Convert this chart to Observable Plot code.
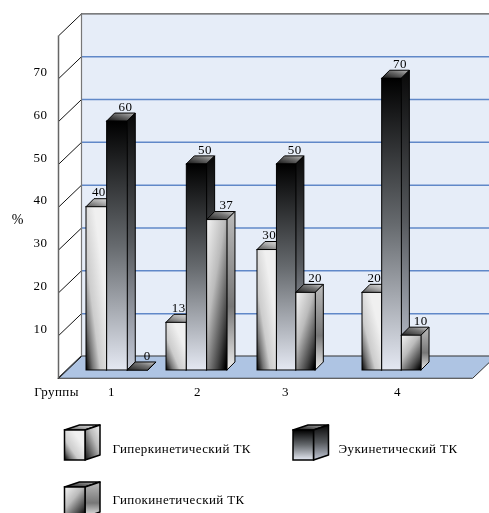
<!DOCTYPE html>
<html lang="ru">
<head>
<meta charset="utf-8">
<script src="https://cdn.jsdelivr.net/npm/d3@7"></script>
<script src="https://cdn.jsdelivr.net/npm/@observablehq/plot@0.6"></script>
<style>
  html, body { margin: 0; background: #fff; }
  svg { display: block; background: transparent !important; will-change: transform; }
  svg text { letter-spacing: 0.4px; }
</style>
</head>
<body>
<div id="chart"></div>
<script>
// Patients (%) by tachykinetic type in four groups
const groups = ["1", "2", "3", "4"];
const seriesNames = ["Гиперкинетический ТК", "Эукинетический ТК", "Гипокинетический ТК"];
const hyper = [40, 13, 30, 20];
const eu = [60, 50, 50, 70];
const hypo = [0, 37, 20, 10];
const seriesValues = [hyper, eu, hypo];
const valueTicks = [10, 20, 30, 40, 50, 60, 70];
const wallLevels = [0, 10, 20, 30, 40, 50, 60, 70, 80];

// Groups sit unevenly along the x axis (in axis units)
const groupStart = [1, 2, 3.1375, 4.45];
const groupBarWidth = [0.258, 0.254, 0.243, 0.246];
const groupLabelAt = [1.3125, 2.3875, 3.4875, 4.8875];

// Depth of the box: wall is set back from the front plane, bars have a shallow extrusion
const wallDepth = {x: 0.2875, y: 5.14};
const barDepth = {x: 0.1, y: 1.87};
const barBase = 1.87;
const frontLeft = 0.65;
const frontRight = 5.8375;
const font = "'Liberation Serif', serif";
const textStyle = {fontFamily: font, fontSize: 13, fill: "#000"};

// Gradient definitions for each face of each series
const gradients = [
  {id: "hyperFront", v: [0, 1, 0.7, 0.3], s: [[0, "#000"], [0.25, "#777"], [0.5, "#ccc"], [1, "#f0f0f0"]]},
  {id: "hyperSide", v: [0, 1, 1, 0], s: [[0, "#111"], [0.6, "#bbb"], [1, "#f0f0f0"]]},
  {id: "hyperTop", v: [0, 1, 1, 0], s: [[0, "#555"], [0.5, "#aaa"], [1, "#eee"]]},
  {id: "euFront", v: [0, 0, 0, 1], s: [[0, "#000"], [0.5, "#666a6e"], [1, "#e4e8f2"]]},
  {id: "euSide", v: [0, 0, 0, 1], s: [[0, "#080808"], [0.5, "#55585c"], [1, "#c4cad8"]]},
  {id: "euTop", v: [0, 1, 1, 0], s: [[0, "#111"], [0.55, "#666"], [1, "#bbb"]]},
  {id: "hypoFront", v: [0.1, 0, 0.9, 1], s: [[0, "#eeeeee"], [0.4, "#bbb"], [0.8, "#444"], [1, "#000"]]},
  {id: "hypoSide", v: [0, 0, 0, 1], s: [[0, "#bbb"], [0.6, "#777"], [1, "#eee"]]},
  {id: "hypoTop", v: [0, 1, 1, 0], s: [[0, "#222"], [0.6, "#777"], [1, "#ccc"]]}
];
const faces = ["hyper", "eu", "hypo"];

function gradientDefs() {
  const defs = d3.create("svg:defs");
  for (const g of gradients) {
    const lg = defs.append("linearGradient").attr("id", g.id)
      .attr("x1", g.v[0]).attr("y1", g.v[1]).attr("x2", g.v[2]).attr("y2", g.v[3]);
    for (const [o, c] of g.s) lg.append("stop").attr("offset", o).attr("stop-color", c);
  }
  return defs.node();
}

// A four-cornered face given as two edges, drawn as an area between them
function face(a, b, c, d, style) {
  return Plot.area(
    [{x1: a[0], y1: a[1], x2: b[0], y2: b[1]}, {x1: d[0], y1: d[1], x2: c[0], y2: c[1]}],
    {x1: "x1", y1: "y1", x2: "x2", y2: "y2", ...style}
  );
}

// Top, side and front of one box
function cuboid(left, right, bottom, top, depth, name, strokeWidth) {
  const edge = {stroke: "#000", strokeWidth};
  const dx = depth.x, dy = depth.y;
  const marks = [
    face([left, top], [right, top], [right + dx, top + dy], [left + dx, top + dy], {fill: `url(#${name}Top)`, ...edge}),
    face([right, bottom], [right, top], [right + dx, top + dy], [right + dx, bottom + dy], {fill: `url(#${name}Side)`, ...edge})
  ];
  if (top !== bottom) {
    marks.push(Plot.rect([{l: left, r: right, b: bottom, t: top}], {
      x1: "l", x2: "r", y1: "b", y2: "t", inset: 0, fill: `url(#${name}Front)`, ...edge
    }));
  }
  return marks;
}

// Boxes and their value labels, painted left to right so nearer bars overlap
const barMarks = [];
const labelRows = [];
const labelShift = [2, 8, 9];
groups.forEach((g, gi) => {
  const w = groupBarWidth[gi];
  seriesValues.forEach((values, si) => {
    const left = groupStart[gi] + si * w;
    const top = Math.max(values[gi], barBase);
    barMarks.push(...cuboid(left, left + w, barBase, top, barDepth, faces[si], 1));
    labelRows.push({x: left + w / 2 + labelShift[si] / 80, y: top, label: String(values[gi])});
  });
});

const chart = Plot.plot({
  width: 489,
  height: 405,
  margin: 0,
  x: {domain: [-0.075, 6.0375], range: [0, 489], axis: null},
  y: {domain: [0, 88.27], range: [378, 0], axis: null},
  marks: [
    gradientDefs,
    // Back wall and floor
    Plot.rect([0], {x1: frontLeft + wallDepth.x, x2: 6.2, y1: wallDepth.y, y2: 80 + wallDepth.y, fill: "#e6edf8"}),
    face([frontLeft, 0], [frontRight, 0], [frontRight + wallDepth.x, wallDepth.y], [frontLeft + wallDepth.x, wallDepth.y], {fill: "#aec4e3", stroke: "#333", strokeWidth: 1}),
    // Grid on the back wall, with the diagonals along the left wall
    Plot.ruleY(wallLevels.slice(1, -1), {y: d => d + wallDepth.y, x1: frontLeft + wallDepth.x, x2: 6.2, stroke: "#6088c8", strokeWidth: 1.5}),
    Plot.ruleY([80], {y: d => d + wallDepth.y, x1: frontLeft + wallDepth.x, x2: 6.2, stroke: "#555", strokeWidth: 1.2}),
    Plot.link(wallLevels, {x1: frontLeft, y1: d => d, x2: frontLeft + wallDepth.x, y2: d => d + wallDepth.y, stroke: "#111", strokeWidth: 1}),
    Plot.ruleX([frontLeft], {y1: 0, y2: 80, stroke: "#666", strokeWidth: 1.5}),
    Plot.ruleX([frontLeft + wallDepth.x], {y1: wallDepth.y, y2: 80 + wallDepth.y, stroke: "#777", strokeWidth: 1.2}),
    ...barMarks,
    // Value labels over the bars
    Plot.text(labelRows, {x: "x", y: "y", text: "label", dy: -15, ...textStyle}),
    // Axis labels
    Plot.text(valueTicks, {x: 0.425, y: d => d, text: d => String(d), dy: -7, ...textStyle}),
    Plot.text(groups, {x: (d, i) => groupLabelAt[i], y: 0, text: d => d, dy: 13, ...textStyle}),
    Plot.text(["Группы"], {x: 0.625, y: 0, dy: 13, ...textStyle}),
    Plot.text(["%"], {x: 0.14, y: 37.1, ...textStyle, fontSize: 14})
  ]
});

// Legend: a small box beside each series name
const legendCol = [64.5, 293, 64.5];
const legendRow = [55, 55, 112];
const legendTextX = [112, 338, 112];
const legendTextY = [43, 43, 94];
const legendDepth = {x: 15, y: -5};
const legend = Plot.plot({
  width: 489,
  height: 108,
  margin: 0,
  x: {type: "identity", axis: null},
  y: {type: "identity", axis: null},
  marks: [
    ...seriesNames.flatMap((n, i) =>
      cuboid(legendCol[i], legendCol[i] + 20.5, legendRow[i], legendRow[i] - 30, legendDepth, faces[i], 1.5)),
    Plot.text(seriesNames, {
      x: (d, i) => legendTextX[i], y: (d, i) => legendTextY[i], text: d => d,
      textAnchor: "start", ...textStyle
    })
  ]
});

document.getElementById("chart").append(chart, legend);
</script>
</body>
</html>
